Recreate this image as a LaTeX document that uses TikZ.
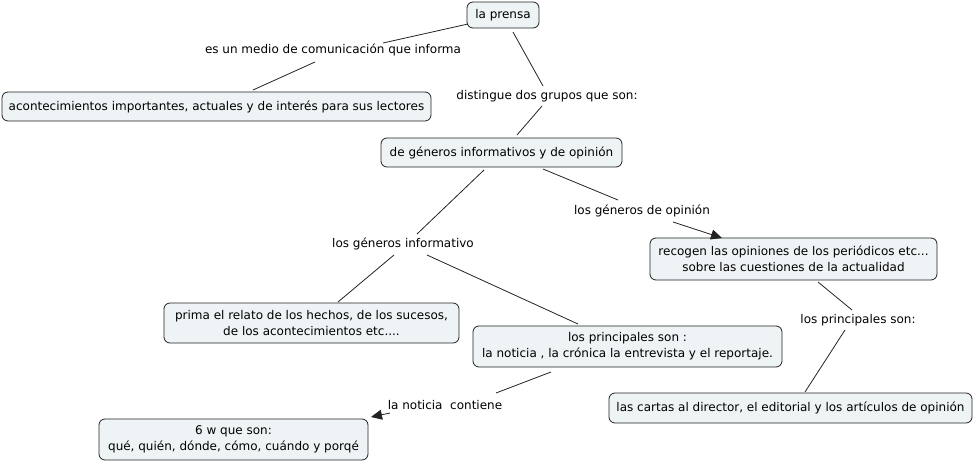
\documentclass[tikz,border=0pt]{standalone}
\usepackage{fontspec}
\setmainfont{DejaVu Sans}
\usetikzlibrary{calc,arrows.meta}
\definecolor{boxfill}{HTML}{EEF3F5}
\definecolor{lnc}{HTML}{222222}
\tikzset{
  concept/.style={draw=lnc, fill=boxfill, rounded corners=6pt, line width=0.8pt, align=center, inner sep=0pt, font=\fontsize{12}{16}\selectfont},
  linklabel/.style={inner sep=0pt, align=center, font=\fontsize{12}{16}\selectfont},
  conn/.style={draw=lnc, line width=0.8pt},
  arr/.style={conn, -{Triangle[length=11pt,width=10pt]}}
}
\begin{document}
\begin{tikzpicture}[x=1pt,y=-1pt]
\useasboundingbox (0,0) rectangle (978,463);
% concepts
\node[concept, minimum width=72pt, minimum height=26pt] (prensa) at (503,15) {la prensa};
\node[concept, minimum width=429pt, minimum height=29pt] (acont) at (216.5,106.5) {acontecimientos importantes, actuales y de interés para sus lectores};
\node[concept, minimum width=241pt, minimum height=29pt] (generos) at (501.5,152.5) {de géneros informativos y de opinión};
\node[concept, minimum width=287pt, minimum height=42pt] (recogen) at (793.5,259) {recogen las opiniones de los periódicos etc...\\sobre las cuestiones de la actualidad};
\node[concept, minimum width=295pt, minimum height=40pt] (prima) at (311.5,323) {prima el relato de los hechos, de los sucesos,\\de los acontecimientos etc....};
\node[concept, minimum width=309pt, minimum height=41pt] (princ) at (627.5,346.5) {los principales son :\\la noticia , la crónica la entrevista y el reportaje.};
\node[concept, minimum width=269pt, minimum height=41pt] (sixw) at (233.5,439.5) {6 w que son:\\qué, quién, dónde, cómo, cuándo y porqé};
\node[concept, minimum width=363pt, minimum height=30pt] (cartas) at (790.5,408) {las cartas al director, el editorial y los artículos de opinión};
% linking phrases
\node[linklabel] (esun) at (333,50) {es un medio de comunicación que informa};
\node[linklabel] (disting) at (547,96) {distingue dos grupos que son:};
\node[linklabel] (gop) at (642,211) {los géneros de opinión};
\node[linklabel] (ginf) at (403,244) {los géneros informativo};
\node[linklabel] (lprinc) at (858,320) {los principales son:};
\node[linklabel] (lnot) at (445,405) {la noticia\ \ contiene};
% connectors
\draw[conn] ($(prensa.center)+(-35,9)$) -- ($(esun.center)+(50,-7)$);
\draw[conn] ($(esun.center)+(-18,12)$) -- ($(acont.center)+(36.5,-16.5)$);
\draw[conn] ($(prensa.center)+(10,17)$) -- ($(disting.center)+(-4,-10)$);
\draw[conn] ($(disting.center)+(-5,10)$) -- ($(generos.center)+(15.5,-17.5)$);
\draw[conn] ($(generos.center)+(41.5,16.5)$) -- ($(gop.center)+(-24,-11)$);
\draw[arr] ($(gop.center)+(31,11)$) -- ($(recogen.center)+(-71.5,-21)$);
\draw[conn] ($(generos.center)+(-17.5,17.5)$) -- ($(ginf.center)+(14,-10)$);
\draw[conn] ($(ginf.center)+(-9,11)$) -- ($(prima.center)+(26.5,-21)$);
\draw[conn] ($(ginf.center)+(24,11)$) -- ($(princ.center)+(-49.5,-22.5)$);
\draw[conn] ($(recogen.center)+(24.5,23)$) -- ($(lprinc.center)+(-6,-10)$);
\draw[conn] ($(lprinc.center)+(-13,10)$) -- ($(cartas.center)+(14.5,-16)$);
\draw[conn] ($(princ.center)+(-76.5,25.5)$) -- ($(lnot.center)+(51,-12)$);
\draw[arr] ($(lnot.center)+(-55,8)$) -- ($(sixw.center)+(137.5,-22.5)$);
\end{tikzpicture}
\end{document}
